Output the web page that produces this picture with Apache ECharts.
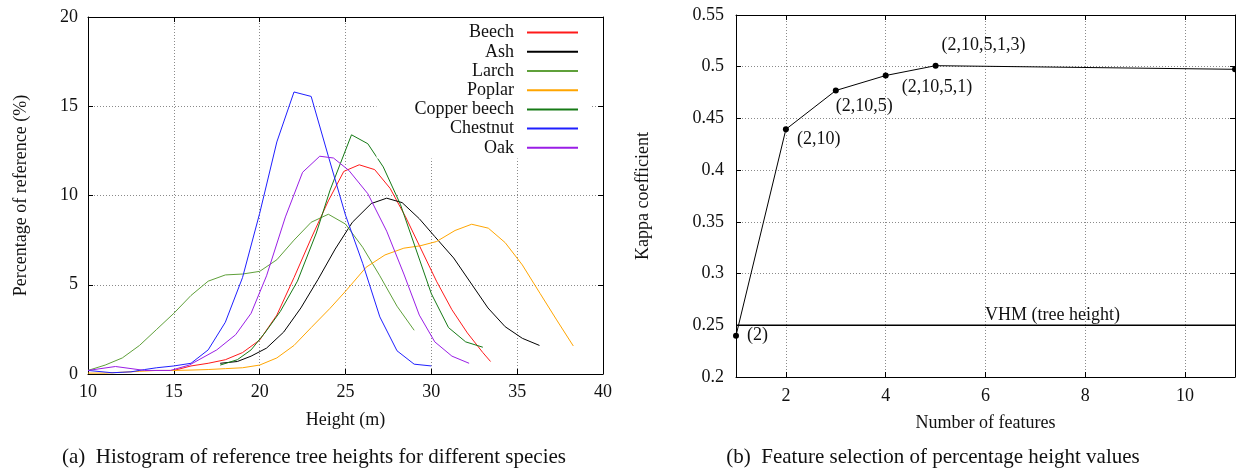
<!DOCTYPE html>
<html><head><meta charset="utf-8">
<script src="https://cdn.jsdelivr.net/npm/echarts@6/dist/echarts.min.js"></script>
<style>html,body{margin:0;padding:0;background:#fff}#c{width:1236px;height:470px}</style>
</head><body><div id="c"></div>
<script>
// ---------- data: left chart (height histogram, % of reference) ----------
const speciesNames = ['Beech', 'Ash', 'Larch', 'Poplar', 'Copper beech', 'Chestnut', 'Oak'];
const beech = [[15,0.2],[16,0.45],[17,0.6],[18,0.8],[19,1.2],[20,1.9],[21,3.3],[22,5.4],[23,7.6],[24,9.7],[24.9,11.35],[25.8,11.72],[26.7,11.45],[27.6,10.4],[28.5,8.8],[29.4,7.0],[30.3,5.2],[31.2,3.6],[32.1,2.3],[33.0,1.2],[33.45,0.7]];
const ash = [[17.7,0.6],[18.7,0.7],[19.5,1.0],[20.4,1.45],[21.4,2.35],[22.4,3.7],[23.4,5.3],[24.4,7.0],[25.4,8.5],[26.5,9.55],[27.4,9.85],[28.3,9.6],[29.3,8.7],[30.2,7.7],[31.3,6.5],[32.3,5.1],[33.3,3.7],[34.3,2.65],[35.3,2.0],[36.3,1.6]];
const larch = [[10,0.2],[11,0.5],[12,0.9],[13,1.6],[14,2.5],[15,3.4],[16,4.4],[17,5.2],[18,5.55],[19,5.6],[20,5.75],[21,6.4],[22,7.5],[23,8.5],[24,8.95],[25,8.4],[26,7.1],[27,5.5],[28,3.8],[29,2.45]];
const poplar = [[10,0.05],[11,0.05],[12,0.1],[13,0.15],[14,0.2],[15,0.2],[16,0.22],[17,0.25],[18,0.3],[19,0.35],[20,0.5],[21,0.9],[22,1.6],[23,2.6],[24.1,3.68],[25.07,4.71],[26.2,5.98],[27.3,6.67],[28.4,7.05],[29.34,7.18],[30.3,7.42],[31.38,8.04],[32.35,8.39],[33.32,8.17],[34.3,7.36],[35.3,6.11],[36.33,4.52],[37.3,3.03],[38.27,1.57]];
const copperBeech = [[17.7,0.5],[18.7,0.8],[19.5,1.35],[20.3,2.3],[21.2,3.5],[22.2,5.2],[23.3,7.9],[24.1,10.3],[25.35,13.4],[26.3,12.9],[27.2,11.6],[28.2,9.5],[29.1,7.0],[30.0,4.5],[31.0,2.6],[32.0,1.8],[33.0,1.5]];
const chestnut = [[10,0.2],[11.4,0.07],[12.5,0.12],[13.3,0.25],[14,0.35],[15,0.45],[16,0.6],[17,1.35],[18,2.9],[19,5.4],[20,9.0],[21,13.0],[22,15.8],[23,15.55],[24,12.2],[25,8.9],[26,6.2],[27,3.2],[28,1.3],[29,0.55],[30,0.45]];
const oak = [[10,0.2],[11.6,0.42],[13.3,0.2],[14.8,0.2],[15.9,0.5],[17.5,1.35],[18.6,2.2],[19.5,3.4],[20.4,5.5],[21.5,8.8],[22.5,11.3],[23.5,12.2],[24.3,12.1],[25.2,11.4],[26.3,10.1],[27.4,8.0],[28.4,5.6],[29.3,3.3],[30.2,1.8],[31.2,1.0],[32.2,0.6]];

// ---------- data: right chart (feature selection) ----------
const featureCounts = [1, 2, 3, 4, 5, 11];
const kappaValues = [0.24, 0.4395, 0.477, 0.4915, 0.501, 0.4975];
const kappaLabels = ['(2)', '(2,10)', '(2,10,5)', '(2,10,5,1)', '(2,10,5,1,3)', ''];
const featureTicks = [2, 4, 6, 8, 10];
const vhmRange = [1, 11];
const vhmKappa = 0.25;
const vhmLabelX = 6;
const vhmLabel = 'VHM (tree height)';

// ---------- styles ----------
const speciesData = [beech, ash, larch, poplar, copperBeech, chestnut, oak];
const speciesColors = ['#ff1a1a', '#000000', '#5fa03a', '#ffa500', '#167a16', '#1f1fff', '#9a1ee6'];
const kappaLabelOffsets = [[11, 0], [11, 10], [0, 16], [16, 12], [6, -20], [0, 0]];

const FONT = 'Liberation Serif';
const txt = { fontFamily: FONT, fontSize: 18, color: '#111' };
const gridLine = () => ({ show: true, lineStyle: { color: '#8a8a8a', type: [1, 2], width: 1 } });
const axisLine = { show: true, onZero: false, lineStyle: { color: '#000', width: 1 } };
const tick = { show: true, inside: true, length: 5, lineStyle: { color: '#000' } };

const chart = echarts.init(document.getElementById('c'), null, { renderer: 'canvas' });

const series = speciesNames.map((n, i) => ({
  name: n, type: 'line', xAxisIndex: 0, yAxisIndex: 0,
  data: speciesData[i], symbol: 'none', z: 3,
  lineStyle: { width: 1, color: speciesColors[i] },
  itemStyle: { color: speciesColors[i] }
}));

series.push({
  name: 'kappa', type: 'line', xAxisIndex: 2, yAxisIndex: 2, clip: false,
  data: featureCounts.map((x, i) => ({
    value: [x, kappaValues[i]],
    label: {
      show: !!kappaLabels[i], formatter: kappaLabels[i],
      position: [kappaLabelOffsets[i][0] + 3, kappaLabelOffsets[i][1] + 3],
      align: 'left', verticalAlign: 'middle'
    }
  })),
  symbol: 'circle', symbolSize: 6,
  lineStyle: { color: '#000', width: 1 }, itemStyle: { color: '#000' },
  label: Object.assign({}, txt)
});

series.push({
  name: 'VHM', type: 'line', xAxisIndex: 2, yAxisIndex: 2,
  data: vhmRange.map(x => [x, vhmKappa]), symbol: 'none',
  lineStyle: { color: '#000', width: 1.5 },
  markPoint: {
    symbol: 'circle', symbolSize: 1, itemStyle: { color: 'rgba(0,0,0,0)' },
    data: [{ coord: [vhmLabelX, vhmKappa] }],
    label: Object.assign({ show: true, formatter: vhmLabel, position: [0, -1], align: 'left', verticalAlign: 'bottom' }, txt)
  }
});

chart.setOption({
  animation: false,
  backgroundColor: '#fff',
  textStyle: { fontFamily: FONT },
  grid: [
    { left: 88, top: 17, width: 515, height: 357 },
    { left: 736, top: 15, width: 499, height: 362 }
  ],
  legend: {
    data: speciesNames, orient: 'vertical', align: 'right',
    right: 646, top: 18, padding: [5, 11, 1, 38],
    backgroundColor: '#fff', itemWidth: 51, itemHeight: 2, itemGap: 0,
    itemStyle: { opacity: 0 },
    textStyle: Object.assign({ lineHeight: 19.2, padding: [0, 8, 0, 0] }, txt),
    inactiveColor: '#ccc'
  },
  xAxis: [
    { gridIndex: 0, type: 'value', min: 10, max: 40, interval: 5, position: 'bottom',
      axisLine, axisTick: tick, axisLabel: Object.assign({ margin: 9 }, txt), splitLine: gridLine(),
      name: 'Height (m)', nameLocation: 'middle', nameGap: 37, nameTextStyle: txt },
    { gridIndex: 0, type: 'value', min: 10, max: 40, interval: 5, position: 'top',
      axisLine, axisTick: tick, axisLabel: { show: false }, splitLine: { show: false } },
    { gridIndex: 1, type: 'value', min: 1, max: 11, position: 'bottom',
      axisLine, axisTick: Object.assign({ customValues: featureTicks }, tick),
      axisLabel: Object.assign({ margin: 10, customValues: featureTicks }, txt), splitLine: gridLine(),
      name: 'Number of features', nameLocation: 'middle', nameGap: 37, nameTextStyle: txt },
    { gridIndex: 1, type: 'value', min: 1, max: 11, position: 'top',
      axisLine, axisTick: Object.assign({ customValues: featureTicks }, tick),
      axisLabel: { show: false, customValues: featureTicks }, splitLine: { show: false } }
  ],
  yAxis: [
    { gridIndex: 0, type: 'value', min: 0, max: 20, interval: 5, position: 'left',
      axisLine, axisTick: tick, axisLabel: Object.assign({ margin: 10 }, txt), splitLine: gridLine(),
      name: 'Percentage of reference (%)', nameLocation: 'middle', nameGap: 58, nameRotate: 90, nameTextStyle: txt },
    { gridIndex: 0, type: 'value', min: 0, max: 20, interval: 5, position: 'right',
      axisLine, axisTick: tick, axisLabel: { show: false }, splitLine: { show: false } },
    { gridIndex: 1, type: 'value', min: 0.2, max: 0.55, interval: 0.05, position: 'left',
      axisLine, axisTick: tick, axisLabel: Object.assign({ margin: 12 }, txt), splitLine: gridLine(),
      name: 'Kappa coefficient', nameLocation: 'middle', nameGap: 84, nameRotate: 90, nameTextStyle: txt },
    { gridIndex: 1, type: 'value', min: 0.2, max: 0.55, interval: 0.05, position: 'right',
      axisLine, axisTick: tick, axisLabel: { show: false }, splitLine: { show: false } }
  ],
  graphic: [
    { type: 'text', x: 314, y: 457, style: { text: '(a)  Histogram of reference tree heights for different species', font: '21px "Liberation Serif"', fill: '#111', align: 'center', verticalAlign: 'middle' } },
    { type: 'text', x: 933, y: 457, style: { text: '(b)  Feature selection of percentage height values', font: '21px "Liberation Serif"', fill: '#111', align: 'center', verticalAlign: 'middle' } }
  ],
  series
});
</script></body></html>
